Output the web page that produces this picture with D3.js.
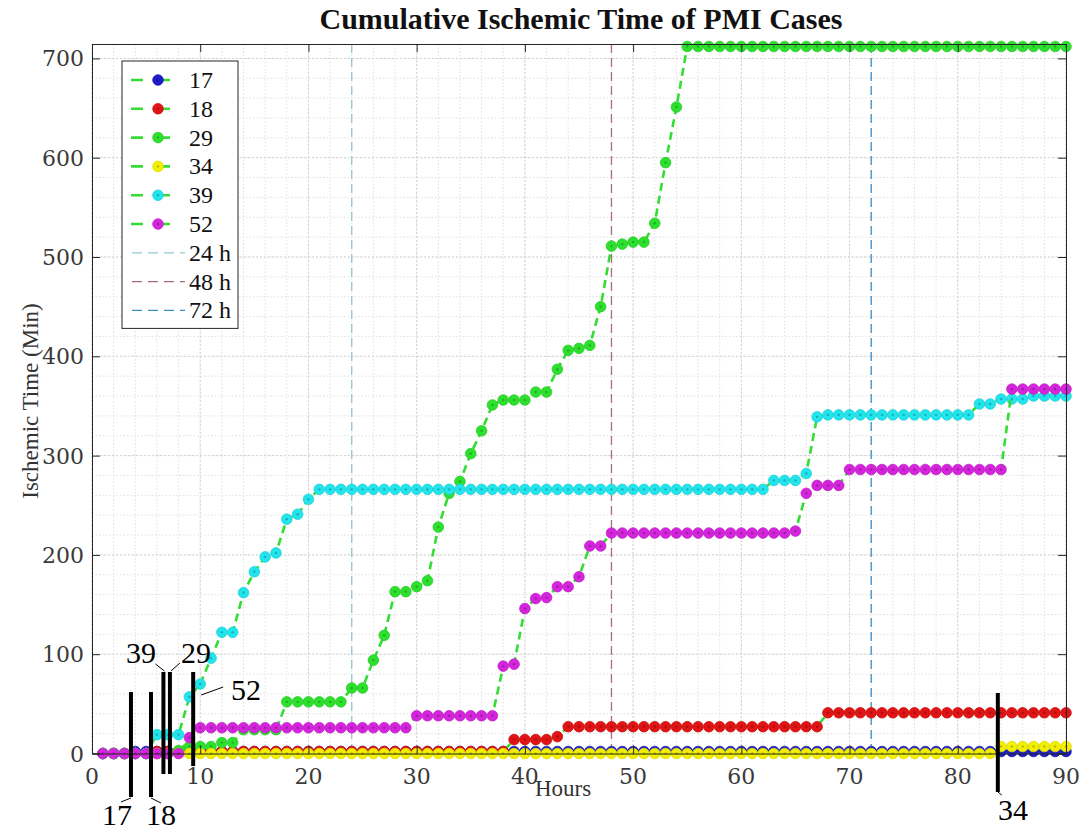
<!DOCTYPE html>
<html>
<head>
<meta charset="utf-8">
<script src="https://cdn.jsdelivr.net/npm/d3@7"></script>
<style>
  html, body { margin: 0; padding: 0; background: #ffffff; }
  svg { display: block; }
</style>
</head>
<body>
<svg id="chart" width="1080" height="833"></svg>
<script>
// ---- data -------------------------------------------------------------
const hours = d3.range(1, 91);               // sampling hours 1..90

const caseIds = ["17", "18", "29", "34", "39", "52"];
const caseColors = ["#1c1cc8", "#e01414", "#2ee02e", "#f2f000", "#22e4ec", "#d424dc"];

const case17 = [0,0,0,2,2,2,2,2,2,2,2,2,2,2,2,2,2,2,2,2,2,2,2,2,2,2,2,2,2,2,
  2,2,2,2,2,2,2,2,2,2,2,2,2,2,2,2,2,2,2,2,2,2,2,2,2,2,2,2,2,2,
  2,2,2,2,2,2,2,2,2,2,2,2,2,2,2,2,2,2,2,2,2,2,2,2,2,2,2,2,2,2];

const case18 = [0,0,0,0,0,2,2,2,2,2,2,2,2,2,2,2,2,2,2,2,2,2,2,2,2,2,2,2,2,2,
  2,2,2,2,2,2,2,2,14,14,14,14,17,27,27,27,27,27,27,27,27,27,27,27,27,27,27,27,27,27,
  27,27,27,27,27,27,27,41,41,41,41,41,41,41,41,41,41,41,41,41,41,41,41,41,41,41,41,41,41,41];

const case29 = [0,0,0,0,0,0,0,3,7,7,7,11,11,24,24,24,24,52,52,52,52,52,52,66,66,94,119,163,163,168,
  174,228,262,274,302,325,351,356,356,356,364,364,387,406,408,411,450,511,513,515,515,534,595,651,712,712,712,712,712,712,
  712,712,712,712,712,712,712,712,712,712,712,712,712,712,712,712,712,712,712,712,712,712,712,712,712,712,712,712,712,712];

const case34 = [0,0,0,0,0,0,0,0,0,0,0,0,0,0,0,0,0,0,0,0,0,0,0,0,0,0,0,0,0,0,
  0,0,0,0,0,0,0,0,0,0,0,0,0,0,0,0,0,0,0,0,0,0,0,0,0,0,0,0,0,0,
  0,0,0,0,0,0,0,0,0,0,0,0,0,0,0,0,0,0,0,0,0,0,0,7,7,7,7,7,7,7];

const case39 = [0,0,0,0,0,19,19,19,57,70,96,122,122,162,183,198,202,236,241,256,266,266,266,266,266,266,266,266,266,266,
  266,266,266,266,266,266,266,266,266,266,266,266,266,266,266,266,266,266,266,266,266,266,266,266,266,266,266,266,266,266,
  266,266,275,275,275,282,339,341,341,341,341,341,341,341,341,341,341,341,341,341,341,352,352,357,357,357,360,360,360,360];

const case52 = [0,0,0,0,0,0,0,0,16,26,26,26,26,26,26,26,26,26,26,26,26,26,26,26,26,26,26,26,26,38,
  38,38,38,38,38,38,38,88,90,146,156,157,168,168,178,209,209,222,222,222,222,222,222,222,222,222,222,222,222,222,
  222,222,222,222,224,262,270,270,270,286,286,286,286,286,286,286,286,286,286,286,286,286,286,286,367,367,367,367,367,367];

const caseValues = [case17, case18, case29, case34, case39, case52];

// reference marks at 24 / 48 / 72 h
const refHours = [24, 48, 72];
const refLabels = ["24 h", "48 h", "72 h"];
const refColors = ["#8ec6d6", "#a86c7e", "#3c8cc4"];

// case onset markers drawn under the axis
const onsetLabels = ["17", "18", "39", "29", "52", "34"];
const onsetHours = [3.6, 5.45, 6.6, 7.2, 9.35, 83.7];

const xTicks = [0, 10, 20, 30, 40, 50, 60, 70, 80, 90];
const yTicks = [0, 100, 200, 300, 400, 500, 600, 700];

// ---- layout -----------------------------------------------------------
const plot = { left: 92, right: 1066, top: 44, bottom: 753.5 };
const serif = "'Liberation Serif', 'Times New Roman', serif";
const tickFont = "'DejaVu Serif', serif";
const lineGreen = "#33dd33";

const svg = d3.select("#chart");
const x = d3.scaleLinear().domain([0, 90]).range([plot.left, plot.right]);
const y = d3.scaleLinear().domain([0, 714.5]).range([plot.bottom, plot.top]);

// ---- grid -------------------------------------------------------------
const grid = svg.append("g");
grid.selectAll("line.minor-x").data(d3.range(0, 91, 2)).join("line")
  .attr("x1", d => x(d)).attr("x2", d => x(d))
  .attr("y1", plot.top).attr("y2", plot.bottom)
  .attr("stroke", "#e0e0e0").attr("stroke-width", 1).attr("stroke-dasharray", "1.5,2");
grid.selectAll("line.minor-y").data(d3.range(0, 715, 20)).join("line")
  .attr("y1", d => y(d)).attr("y2", d => y(d))
  .attr("x1", plot.left).attr("x2", plot.right)
  .attr("stroke", "#e0e0e0").attr("stroke-width", 1).attr("stroke-dasharray", "1.5,2");
grid.selectAll("line.major-x").data(xTicks).join("line")
  .attr("x1", d => x(d)).attr("x2", d => x(d))
  .attr("y1", plot.top).attr("y2", plot.bottom)
  .attr("stroke", "#d4d4d4").attr("stroke-width", 1).attr("stroke-dasharray", "2,2");
grid.selectAll("line.major-y").data(yTicks).join("line")
  .attr("y1", d => y(d)).attr("y2", d => y(d))
  .attr("x1", plot.left).attr("x2", plot.right)
  .attr("stroke", "#d4d4d4").attr("stroke-width", 1).attr("stroke-dasharray", "2,2");

// ---- reference hour lines ----------------------------------------------
svg.append("g").selectAll("line").data(refHours).join("line")
  .attr("x1", d => x(d)).attr("x2", d => x(d))
  .attr("y1", plot.top).attr("y2", plot.bottom)
  .attr("stroke", (d, i) => refColors[i]).attr("stroke-width", 1.3)
  .attr("stroke-dasharray", "9,5");

// ---- series -------------------------------------------------------------
svg.append("defs").append("clipPath").attr("id", "plotClip")
  .append("rect").attr("x", plot.left).attr("y", plot.top - 8)
  .attr("width", plot.right - plot.left + 8).attr("height", plot.bottom - plot.top + 16);

const lineGen = d3.line().x((d, i) => x(hours[i])).y(d => y(d));
const seriesLayer = svg.append("g").attr("clip-path", "url(#plotClip)");

caseValues.forEach((vals, si) => {
  const g = seriesLayer.append("g");
  g.append("path").datum(vals)
    .attr("d", lineGen)
    .attr("fill", "none").attr("stroke", lineGreen)
    .attr("stroke-width", 2.6).attr("stroke-dasharray", "8,5");
  const col = caseColors[si];
  g.selectAll("circle.m").data(vals).join("circle")
    .attr("cx", (d, i) => x(hours[i])).attr("cy", d => y(d))
    .attr("r", 5.3)
    .attr("fill", col)
    .attr("stroke", d3.color(col).darker(0.25)).attr("stroke-width", 0.8);
  g.selectAll("circle.c").data(vals).join("circle")
    .attr("cx", (d, i) => x(hours[i])).attr("cy", d => y(d))
    .attr("r", 1.2)
    .attr("fill", d3.color(col).darker(1.6)).attr("opacity", 0.55);
});

// ---- axes box and ticks --------------------------------------------------
const axisColor = "#262626";
const xAxisB = d3.axisBottom(x).tickValues(xTicks).tickSize(-8).tickFormat("");
const xAxisT = d3.axisTop(x).tickValues(xTicks).tickSize(-8).tickFormat("");
const yAxisL = d3.axisLeft(y).tickValues(yTicks).tickSize(-8).tickFormat("");
const yAxisR = d3.axisRight(y).tickValues(yTicks).tickSize(-8).tickFormat("");

function styleAxis(sel) {
  sel.selectAll("path.domain").attr("stroke", axisColor).attr("stroke-width", 1);
  sel.selectAll(".tick line").attr("stroke", axisColor).attr("stroke-width", 1);
}
svg.append("g").attr("transform", `translate(0,${plot.bottom})`).call(xAxisB).call(styleAxis);
svg.append("g").attr("transform", `translate(0,${plot.top})`).call(xAxisT).call(styleAxis);
svg.append("g").attr("transform", `translate(${plot.left},0)`).call(yAxisL).call(styleAxis);
svg.append("g").attr("transform", `translate(${plot.right},0)`).call(yAxisR).call(styleAxis);

// tick labels
svg.append("g").selectAll("text").data(xTicks).join("text")
  .attr("x", d => x(d)).attr("y", plot.bottom + 30)
  .attr("text-anchor", "middle")
  .attr("font-family", tickFont).attr("font-size", 22).attr("fill", "#3a3a3a")
  .text(d => d);
svg.append("g").selectAll("text").data(yTicks).join("text")
  .attr("x", plot.left - 8).attr("y", d => y(d) + 8)
  .attr("text-anchor", "end")
  .attr("font-family", tickFont).attr("font-size", 22).attr("fill", "#3a3a3a")
  .text(d => d);

// ---- titles ----------------------------------------------------------------
svg.append("text")
  .attr("x", 581).attr("y", 29)
  .attr("text-anchor", "middle")
  .attr("font-family", serif).attr("font-size", 30).attr("font-weight", "bold")
  .attr("fill", "#111111")
  .text("Cumulative Ischemic Time of PMI Cases");
svg.append("text")
  .attr("x", 563).attr("y", 796)
  .attr("text-anchor", "middle")
  .attr("font-family", serif).attr("font-size", 23).attr("fill", "#333333")
  .text("Hours");
svg.append("text")
  .attr("transform", "translate(38,401) rotate(-90)")
  .attr("text-anchor", "middle")
  .attr("font-family", serif).attr("font-size", 23).attr("fill", "#333333")
  .text("Ischemic Time (Min)");

// ---- legend -------------------------------------------------------------------
const legendBox = { left: 122, top: 61, width: 116, rowH: 28.8, firstRow: 80 };
const legendRows = caseIds.length + refLabels.length;
const legend = svg.append("g");
legend.append("rect")
  .attr("x", legendBox.left).attr("y", legendBox.top)
  .attr("width", legendBox.width)
  .attr("height", legendBox.firstRow - legendBox.top + (legendRows - 1) * legendBox.rowH + 18)
  .attr("fill", "#ffffff").attr("stroke", axisColor).attr("stroke-width", 1);

caseIds.forEach((id, i) => {
  const cy = legendBox.firstRow + i * legendBox.rowH;
  legend.append("line")
    .attr("x1", 131).attr("x2", 184).attr("y1", cy).attr("y2", cy)
    .attr("stroke", lineGreen).attr("stroke-width", 2.6).attr("stroke-dasharray", "12,15");
  legend.append("circle").attr("cx", 158).attr("cy", cy).attr("r", 5.3)
    .attr("fill", caseColors[i]).attr("stroke", d3.color(caseColors[i]).darker(0.25)).attr("stroke-width", 0.8);
  legend.append("circle").attr("cx", 158).attr("cy", cy).attr("r", 1.2)
    .attr("fill", d3.color(caseColors[i]).darker(1.6)).attr("opacity", 0.55);
  legend.append("text").attr("x", 189).attr("y", cy + 8)
    .attr("font-family", serif).attr("font-size", 24).attr("fill", "#111111")
    .text(id);
});
refLabels.forEach((lab, j) => {
  const cy = legendBox.firstRow + (caseIds.length + j) * legendBox.rowH;
  legend.append("line")
    .attr("x1", 132).attr("x2", 185).attr("y1", cy).attr("y2", cy)
    .attr("stroke", refColors[j]).attr("stroke-width", 1.3).attr("stroke-dasharray", "10,6");
  legend.append("text").attr("x", 189).attr("y", cy + 8)
    .attr("font-family", serif).attr("font-size", 24).attr("fill", "#111111")
    .text(lab);
});

// ---- onset annotations -----------------------------------------------------------
// bar extents and label anchors, in page pixels
const onsetBars = [
  { top: 692, bottom: 797, lx: 117, ly: 825, leader: [[0, 798], [-10, 802]] },
  { top: 692, bottom: 797, lx: 161, ly: 825, leader: [[0, 798], [10, 803]] },
  { top: 672, bottom: 774, lx: 141, ly: 663, leader: [[1, 671], [-8, 664]] },
  { top: 672, bottom: 774, lx: 196, ly: 663, leader: [[1, 671], [10, 663]] },
  { top: 672, bottom: 766, lx: 246, ly: 700, leader: [[8, 695], [30, 687]] },
  { top: 693, bottom: 792, lx: 1013, ly: 820, leader: [[0, 792], [4, 795]] }
];
const anno = svg.append("g");
onsetLabels.forEach((lab, i) => {
  const b = onsetBars[i];
  const px = x(onsetHours[i]);
  anno.append("line")
    .attr("x1", px).attr("x2", px).attr("y1", b.top).attr("y2", b.bottom)
    .attr("stroke", "#000000").attr("stroke-width", 4);
  anno.append("line")
    .attr("x1", px + b.leader[0][0]).attr("y1", b.leader[0][1])
    .attr("x2", px + b.leader[1][0]).attr("y2", b.leader[1][1])
    .attr("stroke", "#000000").attr("stroke-width", 1);
  anno.append("text")
    .attr("x", b.lx).attr("y", b.ly)
    .attr("text-anchor", "middle")
    .attr("font-family", serif).attr("font-size", 30).attr("fill", "#000000")
    .text(lab);
});
</script>
</body>
</html>
